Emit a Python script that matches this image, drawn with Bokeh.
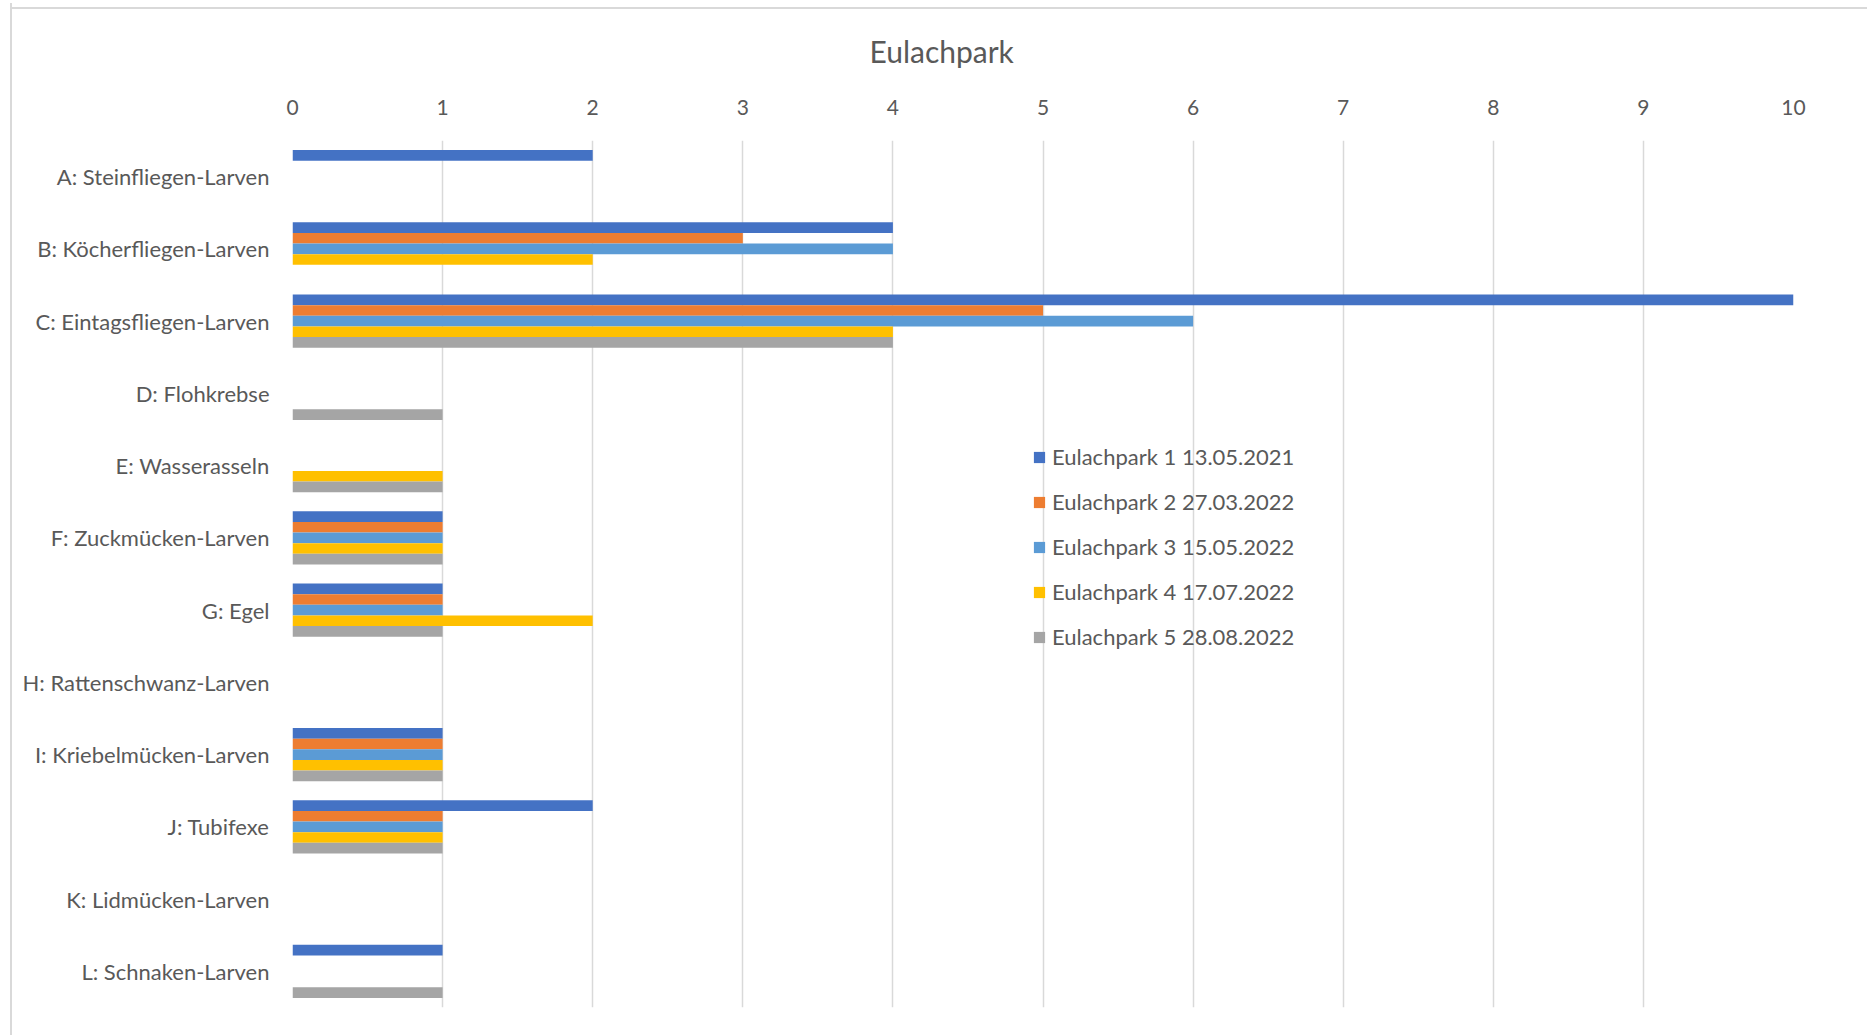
from bokeh.plotting import figure
from bokeh.models import FactorRange, Legend, LegendItem, FixedTicker, ColumnDataSource
from bokeh.transform import dodge
from bokeh.embed import file_html
from bokeh.resources import INLINE

# Taxa (categories, top to bottom)
categories = [
    "A: Steinfliegen-Larven",
    "B: Köcherfliegen-Larven",
    "C: Eintagsfliegen-Larven",
    "D: Flohkrebse",
    "E: Wasserasseln",
    "F: Zuckmücken-Larven",
    "G: Egel",
    "H: Rattenschwanz-Larven",
    "I: Kriebelmücken-Larven",
    "J: Tubifexe",
    "K: Lidmücken-Larven",
    "L: Schnaken-Larven",
]

# Sampling dates (series)
series_names = [
    "Eulachpark 1 13.05.2021",
    "Eulachpark 2 27.03.2022",
    "Eulachpark 3 15.05.2022",
    "Eulachpark 4 17.07.2022",
    "Eulachpark 5 28.08.2022",
]

# Counts per taxon for each sampling
eulachpark_1 = [2, 4, 10, 0, 0, 1, 1, 0, 1, 2, 0, 1]
eulachpark_2 = [0, 3, 5, 0, 0, 1, 1, 0, 1, 1, 0, 0]
eulachpark_3 = [0, 4, 6, 0, 0, 1, 1, 0, 1, 1, 0, 0]
eulachpark_4 = [0, 2, 4, 0, 1, 1, 2, 0, 1, 1, 0, 0]
eulachpark_5 = [0, 0, 4, 1, 1, 1, 1, 0, 1, 1, 0, 1]

x_ticks = [0, 1, 2, 3, 4, 5, 6, 7, 8, 9, 10]

colors = ["#4472C4", "#ED7D31", "#5B9BD5", "#FFC000", "#A5A5A5"]
series_values = [eulachpark_1, eulachpark_2, eulachpark_3, eulachpark_4, eulachpark_5]

FONT = "Lato"
TEXT = "#595959"
GRID = "#D9D9D9"

p = figure(
    width=1857, height=1032,
    y_range=FactorRange(factors=list(reversed(categories))),
    x_range=(0, 10),
    output_backend="svg", toolbar_location=None,
    x_axis_location="above",
    min_border_left=280, min_border_right=76,
    min_border_top=20, min_border_bottom=28,
)
# chart-area frame: left edge plus a top rule drawn behind the transparent border area
p.styles = {
    "margin-left": "10px", "margin-top": "3px",
    "border-left": "2px solid #D9D9D9",
    "background": "linear-gradient(#D9D9D9, #D9D9D9) 0 4px / 100% 2px no-repeat, white",
}
p.border_fill_color = None
p.outline_line_color = None
p.background_fill_color = "white"

# chart title
p.title.text = "Eulachpark"
p.title.align = "left"
p.title.offset = 577
p.title.text_font = FONT
p.title.text_font_size = "30px"
p.title.text_font_style = "normal"
p.title.text_color = TEXT
p.title.standoff = 55

src = ColumnDataSource(dict(cat=categories, **{f"s{i}": v for i, v in enumerate(series_values)}))

bar_h = 0.147
items = []
for j, (name, col) in enumerate(zip(series_names, colors)):
    r = p.hbar(
        y=dodge("cat", (2 - j) * bar_h, range=p.y_range),
        right=f"s{j}", left=0, height=bar_h,
        source=src, fill_color=col, line_color=None,
    )
    items.append(LegendItem(label=name, renderers=[r]))

# grid and axes
p.ygrid.grid_line_color = None
p.xgrid.grid_line_color = GRID
p.xgrid.grid_line_width = 1.5
p.xaxis.ticker = FixedTicker(ticks=x_ticks)
for ax in (p.xaxis[0], p.yaxis[0]):
    ax.axis_line_color = None
    ax.major_tick_line_color = None
    ax.minor_tick_line_color = None
    ax.major_tick_out = 0
    ax.major_tick_in = 0
    ax.major_label_text_font = FONT
    ax.major_label_text_color = TEXT
p.xaxis.major_label_text_font_size = "21px"
p.yaxis.major_label_text_font_size = "22px"
p.xaxis.major_label_standoff = 26
p.yaxis.major_label_standoff = 23

legend = Legend(
    items=items, location=(740, 357),
    background_fill_alpha=0, border_line_alpha=0,
    padding=0, margin=0, spacing=18,
    glyph_width=14, glyph_height=14, label_height=26,
    label_standoff=6,
    label_text_font=FONT, label_text_font_size="22px", label_text_color=TEXT,
)
p.add_layout(legend)

open("out.html", "w").write(file_html(p, INLINE))
